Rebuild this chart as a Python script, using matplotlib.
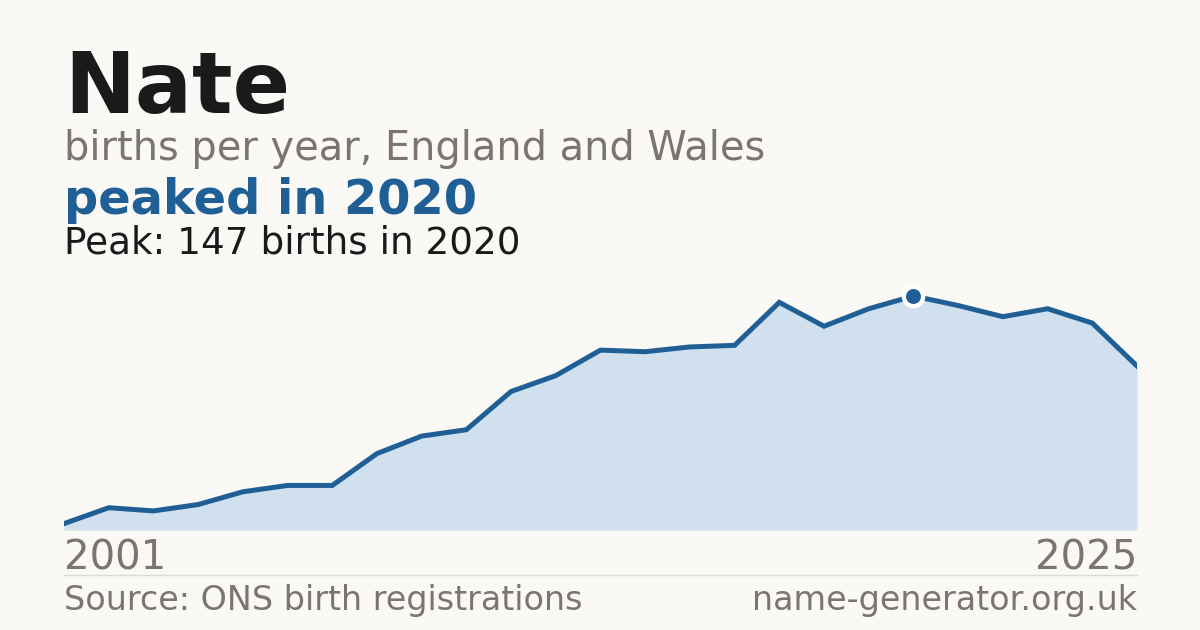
import matplotlib.pyplot as plt
from matplotlib.lines import Line2D

# births per year for "Nate", England and Wales
years = list(range(2001, 2026))
births = [4, 14, 12, 16, 24, 28, 28, 48, 59, 63, 87, 97, 113, 112, 115, 116,
          143, 128, 139, 147, 141, 134, 139, 130, 103]

name = 'Nate'
peak_year = 2020
peak_births = 147

bg = '#faf9f5'
blue = '#1f5f96'
fill = '#d0e0ef'
grey = '#7a766f'
dark = '#1a1a1a'

plt.rcParams['font.family'] = 'DejaVu Sans'

W, H = 1200, 630
fig = plt.figure(figsize=(12, 6.3), dpi=100, facecolor=bg)


def fx(px):
    return px / W


def fy(py):
    return 1 - py / H


# plot area: x 64..1137, baseline at y=530
ax = fig.add_axes([fx(64), fy(530), fx(1137 - 64), (530 - 280) / H])
ax.set_facecolor(bg)
ax.fill_between(years, births, 0, color=fill, lw=0)
ax.plot(years, births, color=blue, lw=3.6, solid_joinstyle='miter')
ax.axhline(0, color='#dcdad4', lw=1)
ax.plot([peak_year], [peak_births], 'o', ms=13.9, mfc=blue, mec='white',
        mew=3.1, clip_on=False, zorder=5)
ax.set_xlim(years[0], years[-1])
ax.set_ylim(0, peak_births * 250 / 234)
ax.axis('off')

# header texts
fig.text(fx(64), fy(113), name, fontsize=61, fontweight='bold', color=dark, va='baseline')
fig.text(fx(64), fy(160), 'births per year, England and Wales', fontsize=28.7,
         color=grey, va='baseline')
fig.text(fx(64), fy(214), f'peaked in {peak_year}', fontsize=34.5,
         fontweight='bold', color=blue, va='baseline')
fig.text(fx(64), fy(253), f'Peak: {peak_births} births in {peak_year}', fontsize=26.9,
         color=dark, va='baseline')

# year labels
fig.text(fx(64), fy(570), str(years[0]), fontsize=29, color=grey, va='baseline')
fig.text(fx(1137), fy(570), str(years[-1]), fontsize=29, color=grey, va='baseline', ha='right')

# separator and footer
fig.add_artist(Line2D([fx(64), fx(1137)], [fy(574.5), fy(574.5)], color='#dcdad4', lw=1))
fig.text(fx(64), fy(610), 'Source: ONS birth registrations', fontsize=24,
         color=grey, va='baseline')
fig.text(fx(1137), fy(610), 'name-generator.org.uk', fontsize=24, color=grey,
         va='baseline', ha='right')

fig.savefig('out.png', dpi=100, facecolor=bg)
